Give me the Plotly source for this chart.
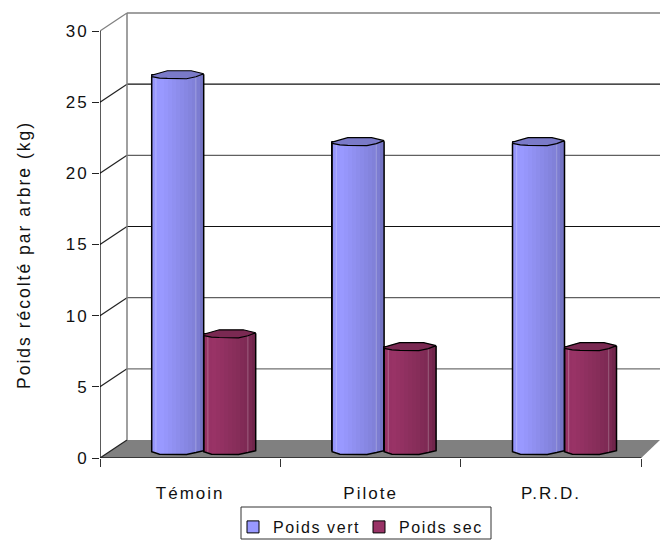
import numpy as np
import plotly.graph_objects as go

categories = ["Témoin", "Pilote", "P.R.D."]
poids_vert = [26.4, 21.7, 21.7]
poids_sec = [8.2, 7.3, 7.3]
y_ticks = [0, 5, 10, 15, 20, 25, 30]
y_title = "Poids récolté par arbre (kg)"
grid_colors = {5: "#707070", 10: "#606060", 15: "#111111", 20: "#606060", 25: "#111111", 30: "#808080"}

W, H = 660, 540
L, T, B = 100, 11, 82
PX_CAT = 180.4
PX_Y = (458 - 31) / 30
DX = 27 / PX_CAT
DY = 18 / PX_Y
xr = [-0.5, -0.5 + (W - L) / PX_CAT]
yr = [0, (458 - T) / PX_Y]
xl, xa = -0.5, len(categories) - 0.5
FONT = "Liberation Sans"
FS = 17

BW = 52 / PX_CAT
CO = DX / 2
BASE = 7 / PX_Y

# cylinder outlines (fraction across, pixel offset upward)
front_u = [0, .15, .3, .67, .85, 1]
bottom_v = [-.7, -3.2, -3.4, -3.4, -1.6, .3]
capf_v = [-1.3, -2.8, -3.2, -3.5, -1.5, 1.0]
capb_u = [0, .1, .3, .76, 1]
capb_v = [0, 1.5, 4.5, 4.5, 1.5]

def bot(u):
    return np.interp(u, front_u, bottom_v) / PX_Y

def capf(u):
    return np.interp(u, front_u, capf_v) / PX_Y

def capb(u):
    return np.interp(u, capb_u, capb_v) / PX_Y

shapes = []
def line(x0, y0, x1, y1, color, width=1.2):
    shapes.append(dict(type="line", xref="x", yref="y", x0=x0, y0=y0, x1=x1, y1=y1,
                       line=dict(color=color, width=width), layer="below"))

def fx(p):
    return (p - L) / (W - L)
def fy(p):
    return (458 - p) / (H - T - B)

# floor
shapes.append(dict(type="path", xref="x", yref="y", layer="below",
                   path=f"M{xl},0 L{xl+DX},{DY} L{xr[1]},{DY} L{xa},0 Z",
                   fillcolor="#808080", line=dict(width=0)))
# walls and grid
for t in y_ticks:
    top = t == y_ticks[-1]
    if t > 0:
        line(xl + DX, t + DY, xr[1], t + DY, grid_colors[t], 1.5 if top else 1.1)
    line(xl, t, xl + DX, t + DY, "#808080" if top else "#222222", 1.2)
line(xl + DX, DY, xl + DX, y_ticks[-1] + DY, "#808080", 1.5)
line(xl, 0, xl, y_ticks[-1], "#000000", 1.3)
line(xl, 0, xa, 0, "#202020", 1.5)
# legend frame
shapes.append(dict(type="rect", xref="paper", yref="paper", x0=fx(241), x1=fx(491), y0=fy(539), y1=fy(507),
                   fillcolor="white", line=dict(color="#333333", width=1), layer="above"))

fig = go.Figure()

def cylinder(vals, name, center_off, stops, cap_color):
    xs = np.arange(len(categories)) + center_off
    vals = np.array(vals, dtype=float)
    fig.add_trace(go.Bar(x=xs, y=vals, base=BASE, width=BW, name=name,
                         marker=dict(color=stops[0], line=dict(color="black", width=1)),
                         hoverinfo="skip"))
    n = 13
    edges = np.linspace(0, 1, n + 1)
    for i in range(n):
        u = (edges[i] + edges[i + 1]) / 2
        c = np.interp(u, [0, .2, .85, 1], [.08, 0, .62, 1])
        rgb = [round(a + (b - a) * c) for a, b in zip(stops[1], stops[2])]
        base = BASE + bot(u)
        top = vals + BASE + capf(u)
        fig.add_trace(go.Bar(x=xs + (u - .5) * BW, y=top - base, base=[base] * len(xs),
                             width=BW / n * 1.08, showlegend=False, hoverinfo="skip",
                             marker=dict(color=f"rgb({rgb[0]},{rgb[1]},{rgb[2]})", line=dict(width=0))))
    uu = np.array(sorted(set(front_u)))
    ub = np.array(capb_u)
    for x, v in zip(xs, vals):
        for h in (.08, .85):
            fig.add_trace(go.Scatter(x=[x + (h - .5) * BW] * 2, y=[BASE + bot(h), v + BASE + capf(h)],
                                     mode="lines", line=dict(color="rgba(255,255,255,.25)", width=1),
                                     showlegend=False, hoverinfo="skip"))
        xp = x + (uu - .5) * BW
        cx = list(xp) + list(x + (ub[::-1] - .5) * BW)
        cy = list(v + BASE + capf(uu)) + list(v + BASE + capb(ub[::-1]))
        fig.add_trace(go.Scatter(x=cx + cx[:1], y=cy + cy[:1], mode="lines", fill="toself",
                                 fillcolor=cap_color, line=dict(color="black", width=1.2),
                                 showlegend=False, hoverinfo="skip"))
        ox = [xp[0]] + list(xp) + [xp[-1]]
        oy = [v + BASE + capf(0.0)] + list(BASE + bot(uu)) + [v + BASE + capf(1.0)]
        fig.add_trace(go.Scatter(x=ox, y=oy, mode="lines", line=dict(color="black", width=1.5),
                                 showlegend=False, hoverinfo="skip"))

cylinder(poids_vert, "Poids vert", CO - BW / 2, ("#9999FF", (153, 153, 255), (112, 112, 190)), "#7A7AC8")
cylinder(poids_sec, "Poids sec", CO + BW / 2, ("#993366", (153, 51, 102), (108, 36, 72)), "#7A2952")

fig.update_layout(
    width=W, height=H, autosize=False, margin=dict(l=L, r=0, t=T, b=B, autoexpand=False),
    plot_bgcolor="white", paper_bgcolor="white", barmode="overlay", bargap=0,
    font=dict(family=FONT, size=FS, color="#111111"), shapes=shapes,
    legend=dict(orientation="h", x=fx(233), y=fy(510),
                xanchor="left", yanchor="top", borderwidth=0,
                bgcolor="rgba(0,0,0,0)", font=dict(family=FONT, size=16), traceorder="normal",
                itemwidth=30, entrywidth=81),
    annotations=[dict(text=y_title, xref="paper", yref="paper", x=fx(24), y=fy(255), textangle=-90,
                      showarrow=False, xanchor="center", yanchor="middle",
                      font=dict(family=FONT, size=17.5))],
    xaxis=dict(range=xr, tickmode="array", tickvals=list(range(len(categories))), ticktext=categories,
               ticks="outside", ticklen=20, tickcolor="rgba(0,0,0,0)", showgrid=False, zeroline=False,
               showline=False, tickfont=dict(family=FONT, size=FS),
               minor=dict(tickmode="array", tickvals=[i - .5 for i in range(len(categories) + 1)],
                          ticks="outside", ticklen=8, tickcolor="#333333", tickwidth=1, showgrid=False)),
    yaxis=dict(range=yr, tickmode="array", tickvals=y_ticks, ticks="outside", ticklen=7,
               tickcolor="#222222", showgrid=False, zeroline=False, showline=False,
               tickfont=dict(family=FONT, size=FS), automargin=False),
)
post = """
document.body.style.margin='0';
var s=document.createElement('style');
s.textContent='svg text{letter-spacing:2px} svg .legend text{letter-spacing:1.6px}';
document.head.appendChild(s);
"""
fig.write_html("out.html", post_script=post, config=dict(displayModeBar=False))
